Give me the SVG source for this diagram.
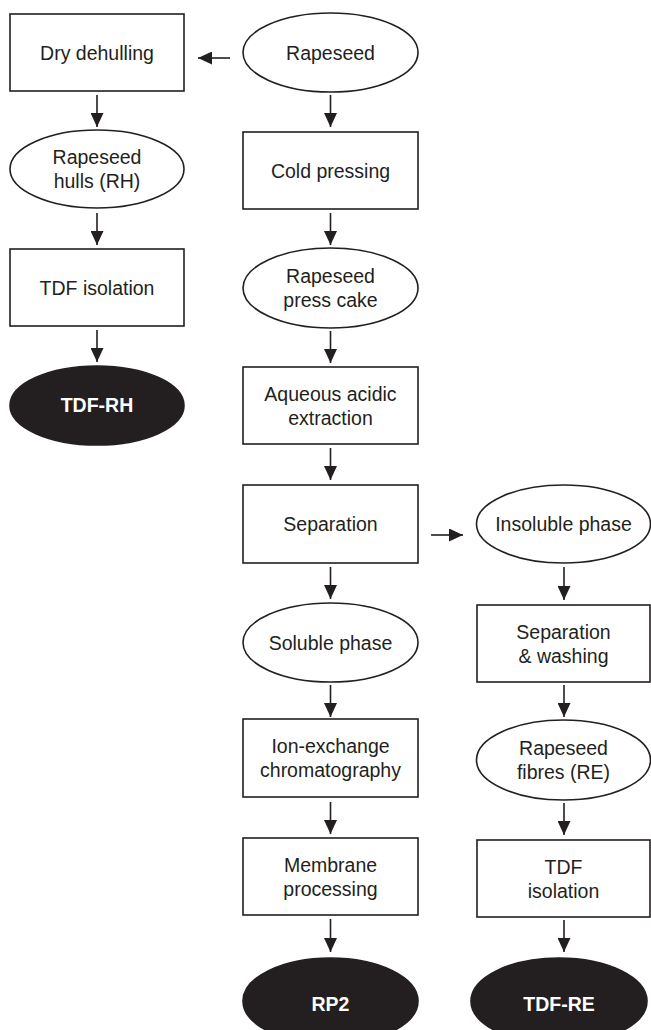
<svg xmlns="http://www.w3.org/2000/svg" width="651" height="1030" viewBox="0 0 651 1030">
<defs>
<style>
.box{fill:#fff;stroke:#231f20;stroke-width:1.6}
.ell{fill:#fff;stroke:#231f20;stroke-width:1.6}
.dark{fill:#231f20;stroke:#231f20;stroke-width:1.6}
.t{font-family:"Liberation Sans",Arial,sans-serif;font-size:19.5px;fill:#231f20;text-anchor:middle}
.tb{font-family:"Liberation Sans",Arial,sans-serif;font-size:19.5px;font-weight:bold;fill:#fff;text-anchor:middle}
.c{stroke:#231f20;stroke-width:1.6;fill:none;marker-end:url(#ah)}
</style>
<marker id="ah" markerUnits="userSpaceOnUse" markerWidth="15" markerHeight="13" refX="14" refY="6.5" orient="auto">
<path d="M0,0 L14,6.5 L0,13 z" fill="#231f20"/>
</marker>
</defs>
<rect width="651" height="1030" fill="#fff"/>

<g id="connectors">
<line class="c" x1="230" y1="58" x2="198" y2="58"/>
<line class="c" x1="97" y1="95" x2="97" y2="127"/>
<line class="c" x1="97" y1="213" x2="97" y2="245"/>
<line class="c" x1="97" y1="330" x2="97" y2="362"/>
<line class="c" x1="330.5" y1="95" x2="330.5" y2="127"/>
<line class="c" x1="330.5" y1="213" x2="330.5" y2="245"/>
<line class="c" x1="330.5" y1="331" x2="330.5" y2="363"/>
<line class="c" x1="330.5" y1="448" x2="330.5" y2="480"/>
<line class="c" x1="330.5" y1="567" x2="330.5" y2="599"/>
<line class="c" x1="330.5" y1="685" x2="330.5" y2="717"/>
<line class="c" x1="330.5" y1="802" x2="330.5" y2="834"/>
<line class="c" x1="330.5" y1="919" x2="330.5" y2="952"/>
<line class="c" x1="431" y1="535" x2="463" y2="535"/>
<line class="c" x1="564" y1="567" x2="564" y2="600"/>
<line class="c" x1="564" y1="685" x2="564" y2="717"/>
<line class="c" x1="564" y1="803" x2="564" y2="835"/>
<line class="c" x1="564" y1="920" x2="564" y2="952"/>
</g>

<g id="dry-dehulling"><rect class="box" x="10" y="14" width="174" height="77"/><text class="t" x="97" y="59.5">Dry dehulling</text></g>
<g id="rapeseed-hulls"><ellipse class="ell" cx="97" cy="169" rx="87" ry="39"/><text class="t" x="97" y="164">Rapeseed</text><text class="t" x="97" y="188">hulls (RH)</text></g>
<g id="tdf-isolation-rh"><rect class="box" x="10" y="249" width="174" height="77"/><text class="t" x="97" y="294.5">TDF isolation</text></g>
<g id="tdf-rh"><ellipse class="dark" cx="97" cy="405.5" rx="87" ry="39.5"/><text class="tb" x="97" y="411.5">TDF-RH</text></g>

<g id="rapeseed"><ellipse class="ell" cx="330.5" cy="52.5" rx="87.5" ry="39.5"/><text class="t" x="330.5" y="59.5">Rapeseed</text></g>
<g id="cold-pressing"><rect class="box" x="243" y="132" width="175" height="77"/><text class="t" x="330.5" y="177.5">Cold pressing</text></g>
<g id="press-cake"><ellipse class="ell" cx="330.5" cy="288" rx="87.5" ry="40"/><text class="t" x="330.5" y="283">Rapeseed</text><text class="t" x="330.5" y="307">press cake</text></g>
<g id="aqueous-extraction"><rect class="box" x="243" y="367" width="175" height="77"/><text class="t" x="330.5" y="400.5">Aqueous acidic</text><text class="t" x="330.5" y="424.5">extraction</text></g>
<g id="separation"><rect class="box" x="243" y="485" width="175" height="78"/><text class="t" x="330.5" y="531">Separation</text></g>
<g id="soluble-phase"><ellipse class="ell" cx="330.5" cy="642.5" rx="87.5" ry="39.5"/><text class="t" x="330.5" y="649.5">Soluble phase</text></g>
<g id="ion-exchange"><rect class="box" x="243" y="719" width="175" height="78"/><text class="t" x="330.5" y="753">Ion-exchange</text><text class="t" x="330.5" y="777">chromatography</text></g>
<g id="membrane"><rect class="box" x="243" y="838" width="175" height="77"/><text class="t" x="330.5" y="871.5">Membrane</text><text class="t" x="330.5" y="895.5">processing</text></g>
<g id="rp2"><ellipse class="dark" cx="330.5" cy="1001" rx="87.5" ry="43"/><text class="tb" x="330.5" y="1011">RP2</text></g>

<g id="insoluble-phase"><ellipse class="ell" cx="563.5" cy="524" rx="87" ry="39"/><text class="t" x="563.5" y="531">Insoluble phase</text></g>
<g id="separation-washing"><rect class="box" x="477" y="605" width="173" height="77"/><text class="t" x="563.5" y="638.5">Separation</text><text class="t" x="563.5" y="662.5">&amp; washing</text></g>
<g id="rapeseed-fibres"><ellipse class="ell" cx="563.5" cy="760" rx="87" ry="40"/><text class="t" x="563.5" y="755">Rapeseed</text><text class="t" x="563.5" y="779">fibres (RE)</text></g>
<g id="tdf-isolation-re"><rect class="box" x="477" y="840" width="173" height="77"/><text class="t" x="563.5" y="873.5">TDF</text><text class="t" x="563.5" y="897.5">isolation</text></g>
<g id="tdf-re"><ellipse class="dark" cx="559" cy="1001" rx="88" ry="43"/><text class="tb" x="559" y="1011">TDF-RE</text></g>
</svg>
